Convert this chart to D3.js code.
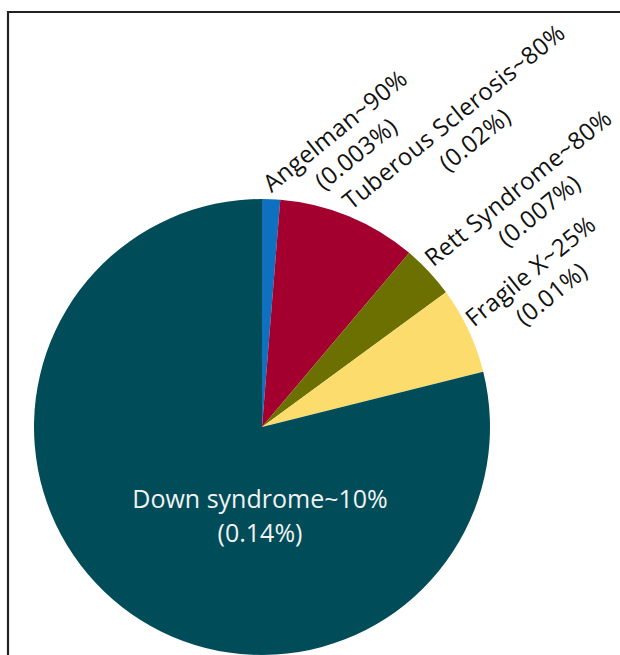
<!DOCTYPE html>
<html><head><meta charset="utf-8">
<script src="https://cdn.jsdelivr.net/npm/d3@7"></script>
<style>html,body{margin:0;padding:0;background:#fff;}svg{display:block;}</style>
</head><body>
<svg id="chart" width="620" height="655"></svg>
<script>
const categories = ["Angelman", "Tuberous Sclerosis", "Rett Syndrome", "Fragile X", "Down syndrome"];
const sliceShares = [0.0023, 0.0178, 0.0068, 0.0111, 0.1420];
const labelMain = ["Angelman~90%", "Tuberous Sclerosis~80%", "Rett Syndrome~80%", "Fragile X~25%", "Down syndrome~10%"];
const labelSub = ["(0.003%)", "(0.02%)", "(0.007%)", "(0.01%)", "(0.14%)"];
const colors = ["#1070c0", "#a3002f", "#6b7000", "#fddc6e", "#004c59"];

const svg = d3.select("#chart");
const cx = 262, cy = 427, R = 228;
const font = "'Open Sans', Lato, sans-serif";

// frame
svg.append("path").attr("d", "M8,655 L8,12 L620,12")
  .attr("fill", "none").attr("stroke", "#222").attr("stroke-width", 2.2);

const data = categories.map((c, i) => ({name: c, value: sliceShares[i], i}));
const pie = d3.pie().value(d => d.value).sort(null);
const arcs = pie(data);
const arc = d3.arc().innerRadius(0).outerRadius(R);

const g = svg.append("g").attr("transform", `translate(${cx},${cy})`);
g.selectAll("path").data(arcs).join("path")
  .attr("d", arc).attr("fill", d => colors[d.data.i]);

// outside rotated labels for the four small slices
const rot = -39;
arcs.slice(0, 4).forEach(a => {
  const mid = (a.startAngle + a.endAngle) / 2;
  const r = R + 6;
  const x = cx + r * Math.sin(mid), y = cy - r * Math.cos(mid);
  const lg = svg.append("g").attr("transform", `translate(${x},${y}) rotate(${rot})`);
  const t1 = lg.append("text").attr("x", 0).attr("y", 0)
    .attr("font-family", font).attr("font-size", 24).attr("letter-spacing", 0.3).attr("fill", "#111")
    .text(labelMain[a.data.i]);
  const w = t1.node().getComputedTextLength();
  lg.append("text").attr("x", w / 2 + 2).attr("y", 31).attr("text-anchor", "middle")
    .attr("font-family", font).attr("font-size", 24).attr("letter-spacing", 0.3).attr("fill", "#111")
    .text(labelSub[a.data.i]);
});

// inside label for Down syndrome
const di = 4;
svg.append("text").attr("x", 260).attr("y", 508).attr("text-anchor", "middle")
  .attr("font-family", font).attr("font-size", 25).attr("fill", "#f2f2f2")
  .text(labelMain[di]);
svg.append("text").attr("x", 260).attr("y", 542).attr("text-anchor", "middle")
  .attr("font-family", font).attr("font-size", 25).attr("fill", "#f2f2f2")
  .text(labelSub[di]);
</script>
</body></html>
